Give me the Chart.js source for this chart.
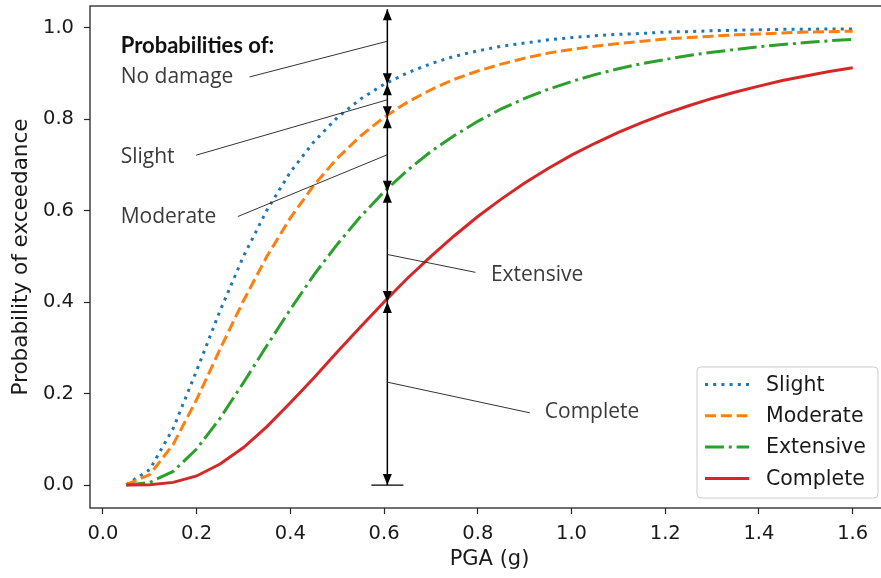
<!DOCTYPE html>
<html>
<head>
<meta charset="utf-8">
<script src="https://cdn.jsdelivr.net/npm/chart.js@4.4.0/dist/chart.umd.min.js"></script>
<style>
  html, body { margin: 0; padding: 0; background: #fff; overflow: hidden; }
  canvas { display: block; }
</style>
</head>
<body>
<canvas id="fragility" width="900" height="578"></canvas>
<script>
// PGA steps (g)
const pga = [0.05, 0.10, 0.15, 0.20, 0.25, 0.30, 0.35, 0.40, 0.45, 0.50, 0.55, 0.60, 0.65, 0.70, 0.75, 0.80,
             0.85, 0.90, 0.95, 1.00, 1.05, 1.10, 1.15, 1.20, 1.25, 1.30, 1.35, 1.40, 1.45, 1.50, 1.55, 1.60];

// probability of exceedance
const slight = [0.001, 0.034, 0.124, 0.250, 0.381, 0.500, 0.601, 0.684, 0.750, 0.803, 0.844, 0.876, 0.901, 0.921, 0.937, 0.949,
                0.959, 0.966, 0.973, 0.978, 0.982, 0.985, 0.987, 0.990, 0.991, 0.993, 0.994, 0.995, 0.996, 0.996, 0.997, 0.997];
const moderate = [0.001, 0.023, 0.089, 0.187, 0.297, 0.403, 0.500, 0.584, 0.655, 0.714, 0.763, 0.804, 0.837, 0.864, 0.887, 0.905,
                  0.920, 0.933, 0.944, 0.952, 0.959, 0.965, 0.970, 0.975, 0.978, 0.981, 0.984, 0.986, 0.988, 0.990, 0.991, 0.992];
const extensive = [0.000, 0.006, 0.030, 0.079, 0.146, 0.224, 0.305, 0.384, 0.459, 0.526, 0.587, 0.641, 0.688, 0.729, 0.764, 0.795,
                   0.822, 0.845, 0.865, 0.882, 0.897, 0.910, 0.921, 0.930, 0.939, 0.946, 0.952, 0.958, 0.963, 0.967, 0.971, 0.974];
const complete = [0.000, 0.001, 0.006, 0.020, 0.046, 0.082, 0.128, 0.180, 0.234, 0.291, 0.346, 0.400, 0.452, 0.500, 0.545, 0.587,
                  0.625, 0.660, 0.692, 0.721, 0.747, 0.771, 0.792, 0.812, 0.829, 0.845, 0.859, 0.872, 0.884, 0.894, 0.904, 0.912];

const seriesNames = ['Slight', 'Moderate', 'Extensive', 'Complete'];
const xTicks = [0.0, 0.2, 0.4, 0.6, 0.8, 1.0, 1.2, 1.4, 1.6];
const yTicks = [0.0, 0.2, 0.4, 0.6, 0.8, 1.0];

// PGA where the arrows are drawn
const markPga = 0.6;

// text notes (data coords, left/baseline)
const notes = [
  { text: 'Probabilities of:', x: 0.038, y: 0.944, bold: true },
  { text: 'No damage', x: 0.038, y: 0.878 },
  { text: 'Slight', x: 0.038, y: 0.705 },
  { text: 'Moderate', x: 0.038, y: 0.573 },
  { text: 'Extensive', x: 0.828, y: 0.447 },
  { text: 'Complete', x: 0.943, y: 0.146 }
];
// leader lines from notes to the arrow
const leaders = [
  [0.313, 0.892, 0.607, 0.970],
  [0.199, 0.721, 0.607, 0.842],
  [0.288, 0.587, 0.607, 0.722],
  [0.607, 0.504, 0.795, 0.465],
  [0.607, 0.225, 0.911, 0.158]
];

const toPoints = (ys) => pga.map((x, i) => ({ x: x, y: ys[i] }));

const axisFont = { family: 'DejaVu Sans', size: 19.5 };

// frame, arrows, notes and legend
const overlay = {
  id: 'overlay',
  afterDatasetsDraw(chart) {
    const { ctx, chartArea: a } = chart;
    const xs = chart.scales.x, ys = chart.scales.y;
    ctx.save();

    // arrows at PGA = 0.6
    const i6 = pga.indexOf(markPga);
    const ax = xs.getPixelForValue(0.607);
    const stops = [1.04, slight[i6], moderate[i6], extensive[i6], complete[i6], 0].map(v => ys.getPixelForValue(v));
    ctx.strokeStyle = '#000';
    ctx.fillStyle = '#000';
    ctx.lineWidth = 1.5;
    ctx.beginPath();
    ctx.moveTo(ax, stops[0]);
    ctx.lineTo(ax, stops[stops.length - 1]);
    ctx.stroke();
    const head = (py, dir) => {
      ctx.beginPath();
      ctx.moveTo(ax, py);
      ctx.lineTo(ax - 4.5, py - dir * 11);
      ctx.lineTo(ax + 4.5, py - dir * 11);
      ctx.closePath();
      ctx.fill();
    };
    for (let k = 0; k < stops.length - 1; k++) {
      head(stops[k], -1);
      head(stops[k + 1], 1);
    }
    // base bar at 0
    ctx.lineWidth = 1.2;
    ctx.beginPath();
    ctx.moveTo(ax - 16, stops[stops.length - 1]);
    ctx.lineTo(ax + 16, stops[stops.length - 1]);
    ctx.stroke();

    // leader lines
    ctx.strokeStyle = '#333';
    ctx.lineWidth = 1;
    leaders.forEach(l => {
      ctx.beginPath();
      ctx.moveTo(xs.getPixelForValue(l[0]), ys.getPixelForValue(l[1]));
      ctx.lineTo(xs.getPixelForValue(l[2]), ys.getPixelForValue(l[3]));
      ctx.stroke();
    });

    // notes
    ctx.textBaseline = 'alphabetic';
    ctx.textAlign = 'left';
    notes.forEach(n => {
      ctx.fillStyle = n.bold ? '#111' : '#3a3a3a';
      ctx.font = n.bold ? 'bold 22px Lato' : '21px "Open Sans"';
      ctx.fillText(n.text, xs.getPixelForValue(n.x), ys.getPixelForValue(n.y));
    });

    // frame
    ctx.strokeStyle = '#262626';
    ctx.lineWidth = 1.3;
    ctx.strokeRect(a.left, a.top, a.right - a.left, a.bottom - a.top);

    // legend box
    const bx = a.right - 192, by = a.bottom - 141, bw = 181, bh = 131;
    ctx.fillStyle = 'rgba(255,255,255,0.85)';
    ctx.strokeStyle = '#cccccc';
    ctx.lineWidth = 1;
    ctx.beginPath();
    ctx.roundRect(bx, by, bw, bh, 4);
    ctx.fill();
    ctx.stroke();
    ctx.font = '20.5px "DejaVu Sans"';
    ctx.textBaseline = 'middle';
    chart.data.datasets.forEach((ds, k) => {
      const ry = by + 17.5 + k * 31.3;
      ctx.strokeStyle = ds.borderColor;
      ctx.lineWidth = ds.borderWidth;
      ctx.setLineDash(ds.borderDash);
      ctx.lineCap = 'butt';
      ctx.beginPath();
      ctx.moveTo(bx + 8, ry);
      ctx.lineTo(bx + 52, ry);
      ctx.stroke();
      ctx.setLineDash([]);
      ctx.fillStyle = '#1a1a1a';
      ctx.fillText(ds.label, bx + 69, ry + 1);
    });

    ctx.restore();
  }
};

new Chart(document.getElementById('fragility'), {
  type: 'line',
  data: {
    datasets: [
      { label: seriesNames[0], data: toPoints(slight), borderColor: '#1f77b4', borderWidth: 3, borderDash: [3, 5.2], order: 4 },
      { label: seriesNames[1], data: toPoints(moderate), borderColor: '#ff7f0e', borderWidth: 3, borderDash: [11, 4.8], order: 3 },
      { label: seriesNames[2], data: toPoints(extensive), borderColor: '#2ca02c', borderWidth: 3, borderDash: [19, 4.8, 3, 4.8], order: 2 },
      { label: seriesNames[3], data: toPoints(complete), borderColor: '#d62728', borderWidth: 3, borderDash: [], order: 1 }
    ]
  },
  options: {
    responsive: false,
    animation: false,
    devicePixelRatio: 1,
    layout: { padding: { left: 0, right: 11, top: 6, bottom: 0 } },
    elements: {
      point: { radius: 0 },
      line: { tension: 0, fill: false, borderCapStyle: 'butt' }
    },
    plugins: {
      legend: { display: false },
      tooltip: { enabled: false }
    },
    scales: {
      x: {
        type: 'linear',
        min: -0.0275,
        max: 1.6775,
        afterBuildTicks: (s) => { s.ticks = xTicks.map(v => ({ value: v })); },
        afterFit: (s) => { s.height = 70; s.paddingLeft = 0; s.paddingRight = 0; },
        ticks: { font: axisFont, color: '#1a1a1a', padding: 8, maxRotation: 0, callback: (v) => v.toFixed(1) },
        grid: { drawOnChartArea: false, tickLength: 6, tickColor: '#262626', tickWidth: 1.2 },
        border: { display: false },
        title: { display: true, text: 'PGA (g)', font: { family: 'DejaVu Sans', size: 21 }, color: '#1a1a1a', padding: { top: 0, bottom: 6 } }
      },
      y: {
        type: 'linear',
        min: -0.05,
        max: 1.047,
        afterBuildTicks: (s) => { s.ticks = yTicks.map(v => ({ value: v })); },
        afterFit: (s) => { s.width = 90; s.paddingTop = 0; s.paddingBottom = 0; },
        ticks: { font: axisFont, color: '#1a1a1a', padding: 10, callback: (v) => v.toFixed(1) },
        grid: { drawOnChartArea: false, tickLength: 6, tickColor: '#262626', tickWidth: 1.2 },
        border: { display: false },
        title: { display: true, text: 'Probability of exceedance', font: { family: 'DejaVu Sans', size: 21.5 }, color: '#1a1a1a', padding: { top: 9, bottom: 0 } }
      }
    }
  },
  plugins: [overlay]
});
</script>
</body>
</html>
